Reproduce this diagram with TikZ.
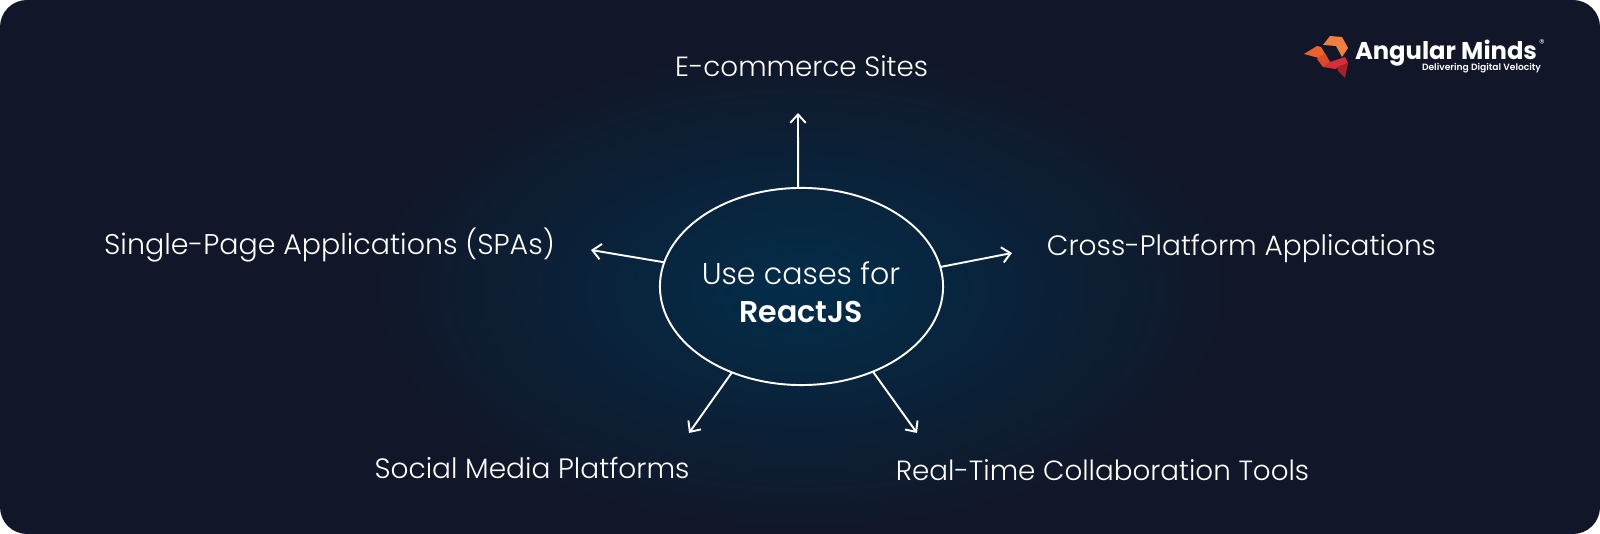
\documentclass[tikz,border=0pt]{standalone}
\usepackage{fontspec}
\setmainfont{Poppins Light}[BoldFont={Poppins SemiBold}]
\newfontfamily\brandfont{Poppins Bold}
\usetikzlibrary{shapes.geometric,arrows.meta}
\definecolor{panelbg}{HTML}{111729}
\definecolor{glowbg}{HTML}{032D4A}
\definecolor{logolight}{HTML}{EE7F3F}
\definecolor{logoorange}{HTML}{F0602A}
\definecolor{logomid}{HTML}{DD4A2A}
\definecolor{logored}{HTML}{D42F3A}
\definecolor{logodark}{HTML}{A92027}
\begin{document}
\begin{tikzpicture}[x=0.01cm,y=-0.01cm]
        \tikzstyle{usecase}=[text=white,font=\fontsize{7.9}{10}\selectfont,inner sep=0pt]
        \tikzstyle{hubtext}=[text=white,font=\fontsize{8.55}{10}\selectfont,inner sep=0pt]
        \tikzstyle{hubnode}=[ellipse,draw=white,line width=0.55pt,minimum width=2.83cm,minimum height=1.97cm,inner sep=0pt,outer sep=0pt]
        \tikzstyle{spoke}=[draw=white,line width=0.55pt,-{Straight Barb[length=2.4pt,width=4.4pt]}]

        \useasboundingbox (0,0) rectangle (1600,534);
        \fill[white] (0,0) rectangle (1600,534);

        \begin{scope}
          \clip[rounded corners=0.27cm] (0,0) rectangle (1600,534);
          \fill[panelbg] (0,0) rectangle (1600,534);
          \shade[inner color=glowbg,outer color=panelbg] (801,290) ellipse [x radius=430,y radius=240];
        \end{scope}

        % centre
        \node [hubnode] (hub) at (801.5,286.5) {};
        \node [hubtext] (hubtop) at (801,273) {Use cases for};
        \node [hubtext] (hubbottom) at (801,312) {\textbf{ReactJS}};

        % labels
        \node [usecase] (shop) at (801.5,66) {E-commerce Sites};
        \node [usecase,font=\fontsize{8.1}{10}\selectfont] (spa) at (329.5,245) {Single-Page Applications (SPAs)};
        \node [usecase,font=\fontsize{7.97}{10}\selectfont] (cross) at (1241.5,249) {Cross-Platform Applications};
        \node [usecase,font=\fontsize{7.97}{10}\selectfont] (social) at (532,468) {Social Media Platforms};
        \node [usecase] (realtime) at (1102.5,470) {Real-Time Collaboration Tools};

        % arrow ends
        \coordinate (shopend) at (798,113);
        \coordinate (spaend) at (591,250);
        \coordinate (crossend) at (1012,253);
        \coordinate (socialend) at (689,433);
        \coordinate (realtimeend) at (917,433);

        \draw[spoke] (hub.92) -- (shopend);
        \draw[spoke] (hub.170.3) -- (spaend);
        \draw[spoke] (hub.8.8) -- (crossend);
        \draw[spoke] (hub.231.2) -- (socialend);
        \draw[spoke] (hub.310.3) -- (realtimeend);

        % logo
        \fill[logoorange] (1304,54) -- (1317,46) -- (1321,47) -- (1327,57) -- (1319,58) -- cycle;
        \fill[logolight] (1323,45) -- (1330,36) -- (1342,37) -- (1348,48) -- (1342,57) -- (1336,46) -- cycle;
        \fill[logomid] (1317,59) -- (1325,53) -- (1330,62) -- (1323,67) -- cycle;
        \fill[logored] (1330,62) -- (1345,57) -- (1348,63) -- (1335,69) -- (1323,67) -- cycle;
        \fill[logodark] (1337,67) -- (1348,63) -- (1345,78) -- (1338,71) -- cycle;
        \node [text=white,font=\fontsize{6.9}{7}\brandfont,inner sep=0pt] (brand) at (1446,53) {Angular Minds};
        \node [text=white,font=\fontsize{2.6}{3}\bfseries\selectfont,inner sep=0pt] (tagline) at (1481.5,68) {Delivering Digital Velocity};
        \node [text=white,font=\fontsize{3.2}{3}\selectfont,inner sep=0pt] (regmark) at (1542,44) {®};
\end{tikzpicture}
\end{document}
